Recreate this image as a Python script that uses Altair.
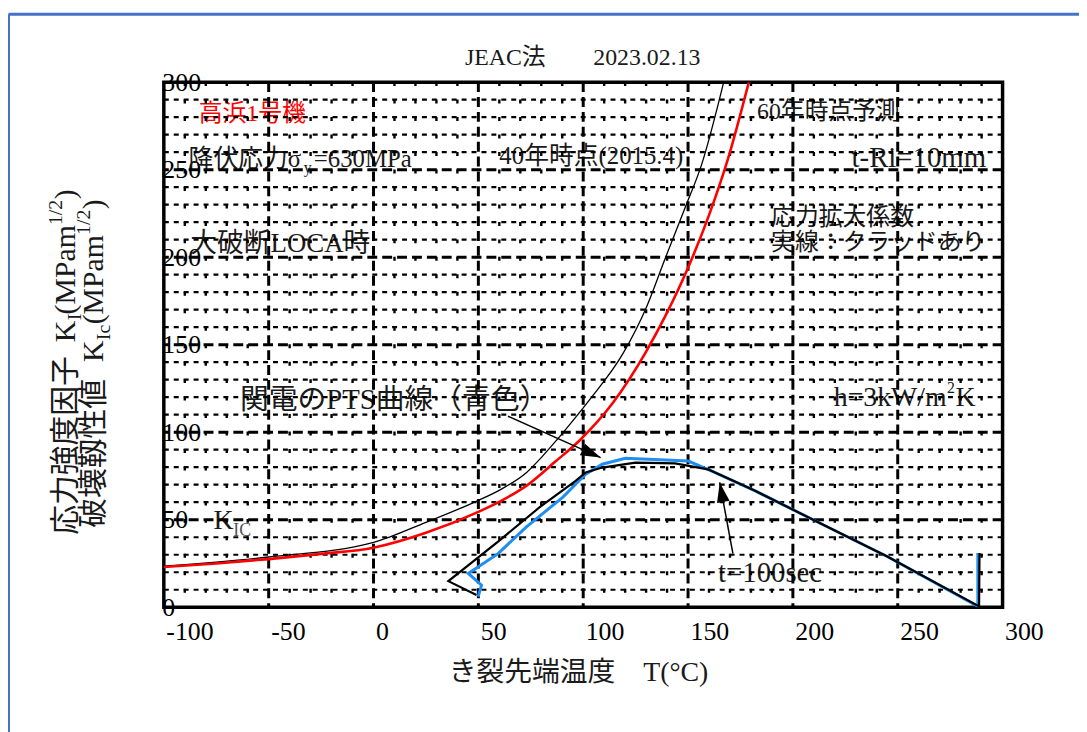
import altair as alt
import pandas as pd

# ---------------- data ----------------
# K_Ic curve, 60-year prediction (red)
red_T = [-100, -75, -50, -25, 0, 25, 50, 62, 73, 87, 98, 114, 130, 139, 150, 160, 169, 179]
red_K = [23, 25, 27.5, 30.5, 34, 42.5, 54.5, 61.5, 69.5, 83.5, 95, 116.5, 146, 166, 194, 224, 256, 300]

# K_Ic curve, 40-year point 2015.4 (thin black)
k40_T = [-100, -50, 0, 25, 49, 61, 73, 80, 87, 95, 103, 119, 130, 139, 148.5, 156.5, 167]
k40_K = [23.5, 28.7, 37, 48.5, 60.5, 67.5, 77, 85.5, 95, 106.5, 118.5, 145, 171, 199, 228, 253, 300]

# K_I transient, clad (thick black)
ki_T = [49.1, 35.7, 59.4, 79.1, 96.4, 101.2, 109.1, 124.9, 143.8, 159.5, 182, 213, 245, 288.8, 289.0]
ki_K = [7.0, 14.9, 37.5, 57.0, 72.2, 77.0, 79.8, 82.6, 82.2, 78.8, 66.5, 48.0, 29.0, 0.5, 31.0]

# Kansai PTS curve (blue)
pts_T = [49.9, 51.5, 45.2, 59.4, 72.8, 90.2, 96.4, 101.2, 109.1, 120.1, 150.1, 161.1, 182, 213, 245, 288.2, 288.2]
pts_K = [6.1, 12.6, 19.3, 30.6, 45.8, 62.8, 70.3, 76.0, 81.7, 85.1, 83.5, 77.9, 66.5, 48.0, 29.0, 0.5, 31.0]

# axis tick values
x_ticks = [-100, -50, 0, 50, 100, 150, 200, 250, 300]
y_ticks = [0, 50, 100, 150, 200, 250, 300]
x_major = [-50, 0, 50, 100, 150, 200, 250]
x_minor = [-90, -80, -70, -60, -40, -30, -20, -10, 10, 20, 30, 40, 60, 70, 80, 90,
           110, 120, 130, 140, 160, 170, 180, 190, 210, 220, 230, 240, 260, 270, 280, 290]
y_major = [50, 100, 150, 200, 250]
y_minor = [10, 20, 30, 40, 60, 70, 80, 90, 110, 120, 130, 140, 160, 170, 180, 190,
           210, 220, 230, 240, 260, 270, 280, 290]

# annotations in data coordinates
ann_text = ["高浜1号機", "降伏応力σ", "y", "=630MPa", "40年時点(2015.4)", "60年時点予測",
            "t-Ri=10mm", "応力拡大係数", "実線：クラッドあり", "大破断LOCA時",
            "関電のPTS曲線（青色）", "h=3kW/m", "2", "K", "K", "IC", "t=100sec"]
ann_T = [-83.4, -88.2, -33.3, -28.5, 60.0, 182.9, 228.0, 189.6, 189.6, -87.4,
         -63.7, 219.5, 273.5, 277.6, -76.3, -66.9, 164.3]
ann_K = [281.9, 255.8, 251.2, 255.8, 257.5, 283.0, 256.5, 222.5, 208.3, 207.6,
         118.5, 119.5, 125.3, 119.5, 49.5, 43.8, 19.3]

# arrows (tail -> tip)
arrow1_T = [64.1, 108.3]
arrow1_K = [109.1, 85.5]
arrow2_T = [171.4, 165.1]
arrow2_K = [30.6, 71.3]

# ---------------- styling ----------------
W, H = 845, 529
SERIF = "Liberation Serif, Noto Sans CJK JP"
TXT = "#1a1a1a"
ann_size = [24, 25, 16, 25, 25, 24, 29, 24, 24, 27, 29, 28, 16, 28, 28, 18, 29]
ann_color = ["#ff0000"] + [TXT] * 14 + ["#555555", TXT]

xs = alt.Scale(domain=[-100, 300], nice=False, zero=False)
ys = alt.Scale(domain=[0, 300], nice=False, zero=False)

xaxis = alt.Axis(values=x_ticks, title=None, grid=False, domain=False, ticks=False, tickSize=0,
                 labelAlign="left", labelOffset=2, labelPadding=12, labelFlush=False,
                 labelFontSize=26, labelFont="Liberation Serif", labelColor="black",
                 labelExpr="'' + datum.value", labelOverlap=False)
yaxis = alt.Axis(values=y_ticks, title=None, grid=False, domain=False, ticks=False, tickSize=0,
                 labelAlign="left", labelBaseline="middle", labelPadding=2, labelFlush=False,
                 labelFontSize=26, labelFont="Liberation Serif", labelColor="black",
                 labelOverlap=False)


def vrules(vals, dash, width):
    return alt.Chart(pd.DataFrame({"T": vals})).mark_rule(
        color="black", strokeDash=dash, strokeWidth=width).encode(
        x=alt.X("T:Q", scale=xs, axis=xaxis))


def hrules(vals, dash, width):
    return alt.Chart(pd.DataFrame({"K": vals})).mark_rule(
        color="black", strokeDash=dash, strokeWidth=width).encode(
        y=alt.Y("K:Q", scale=ys, axis=yaxis))


def curve(T, K, color, width, interp="linear"):
    df = pd.DataFrame({"T": T, "K": K, "i": list(range(len(T)))})
    return alt.Chart(df).mark_line(color=color, strokeWidth=width, interpolate=interp,
                                   clip=True, strokeJoin="miter").encode(
        x=alt.X("T:Q", scale=xs, axis=xaxis),
        y=alt.Y("K:Q", scale=ys, axis=yaxis),
        order="i:Q")


def arrow(T, K, angle):
    df = pd.DataFrame({"T": T, "K": K, "i": [0, 1]})
    shaft = alt.Chart(df).mark_line(color="black", strokeWidth=1.5).encode(
        x=alt.X("T:Q", scale=xs, axis=xaxis), y=alt.Y("K:Q", scale=ys, axis=yaxis), order="i:Q")
    head = alt.Chart(df.iloc[[1]]).mark_point(
        shape="M0,0 L-1,-0.32 L-1,0.32 Z", size=1600, filled=True, color="black",
        opacity=1, angle=angle, strokeWidth=0).encode(
        x=alt.X("T:Q", scale=xs, axis=xaxis), y=alt.Y("K:Q", scale=ys, axis=yaxis))
    return shaft + head


ann_df = pd.DataFrame({"T": ann_T, "K": ann_K, "text": ann_text, "fs": ann_size, "col": ann_color})
annotations = alt.Chart(ann_df).mark_text(align="left", baseline="middle", font=SERIF).encode(
    x=alt.X("T:Q", scale=xs, axis=xaxis),
    y=alt.Y("K:Q", scale=ys, axis=yaxis),
    text="text:N",
    size=alt.Size("fs:Q", scale=None),
    color=alt.Color("col:N", scale=None))


def ptext(txt, x, y, fs, angle=0, align="left", color=TXT):
    return alt.Chart(pd.DataFrame({"a": [0]})).mark_text(
        text=txt, align=align, baseline="alphabetic", font=SERIF, fontSize=fs,
        angle=angle, color=color).encode(x=alt.value(x), y=alt.value(y))


# titles (pixel positions relative to the plot origin)
title_layers = [
    ptext("JEAC法　　2023.02.13", 422, -17, 24, align="center"),
    ptext("き裂先端温度　T(°C)", 287, 603, 28),
    # y title, line 1
    ptext("応力強度因子", -90, 456, 30, 270),
    ptext("K", -90, 262, 30, 270),
    ptext("I", -83, 240, 20, 270),
    ptext("(MPam", -90, 234, 30, 270),
    ptext("1/2", -103, 144, 20, 270),
    ptext(")", -90, 118, 30, 270),
    # y title, line 2
    ptext("破壊靱性値", -61, 449, 30, 270),
    ptext("K", -61, 282, 30, 270),
    ptext("Ic", -54, 260, 20, 270),
    ptext("(MPam", -61, 244, 30, 270),
    ptext("1/2", -74, 154, 20, 270),
    ptext(")", -61, 128, 30, 270),
]

# outer blue frame of the picture
frame_top = alt.Chart(pd.DataFrame({"a": [0]})).mark_rule(color="#4472c4", strokeWidth=3).encode(
    x=alt.value(-156.5), x2=alt.value(940), y=alt.value(-68.5))
frame_left = alt.Chart(pd.DataFrame({"a": [0]})).mark_rule(color="#4472c4", strokeWidth=3).encode(
    x=alt.value(-156.5), y=alt.value(-68.5), y2=alt.value(660))

layers = [
    annotations,
    *title_layers,
    vrules(x_minor, [4, 13.6], 2.4),
    hrules(y_minor, [5, 5], 2.2),
    vrules(x_major, [10, 5], 3),
    hrules(y_major, [10, 5], 3),
    curve(k40_T, k40_K, "black", 1.3, "monotone"),
    curve(red_T, red_K, "#ff0000", 2.6, "monotone"),
    curve(pts_T, pts_K, "#1e8ff0", 3),
    curve(ki_T, ki_K, "black", 2.2),
    arrow(arrow1_T, arrow1_K, 24),
    arrow(arrow2_T, arrow2_K, 259.5),
    frame_top,
    frame_left,
]

chart = alt.layer(*layers).properties(
    width=W, height=H,
    autosize=alt.AutoSizeParams(type="none"),
    padding={"left": 157, "top": 72, "right": 77, "bottom": 123},
).configure_view(stroke="black", strokeWidth=3.5)

chart.save("out.html", embed_options={"renderer": "svg", "actions": False})
